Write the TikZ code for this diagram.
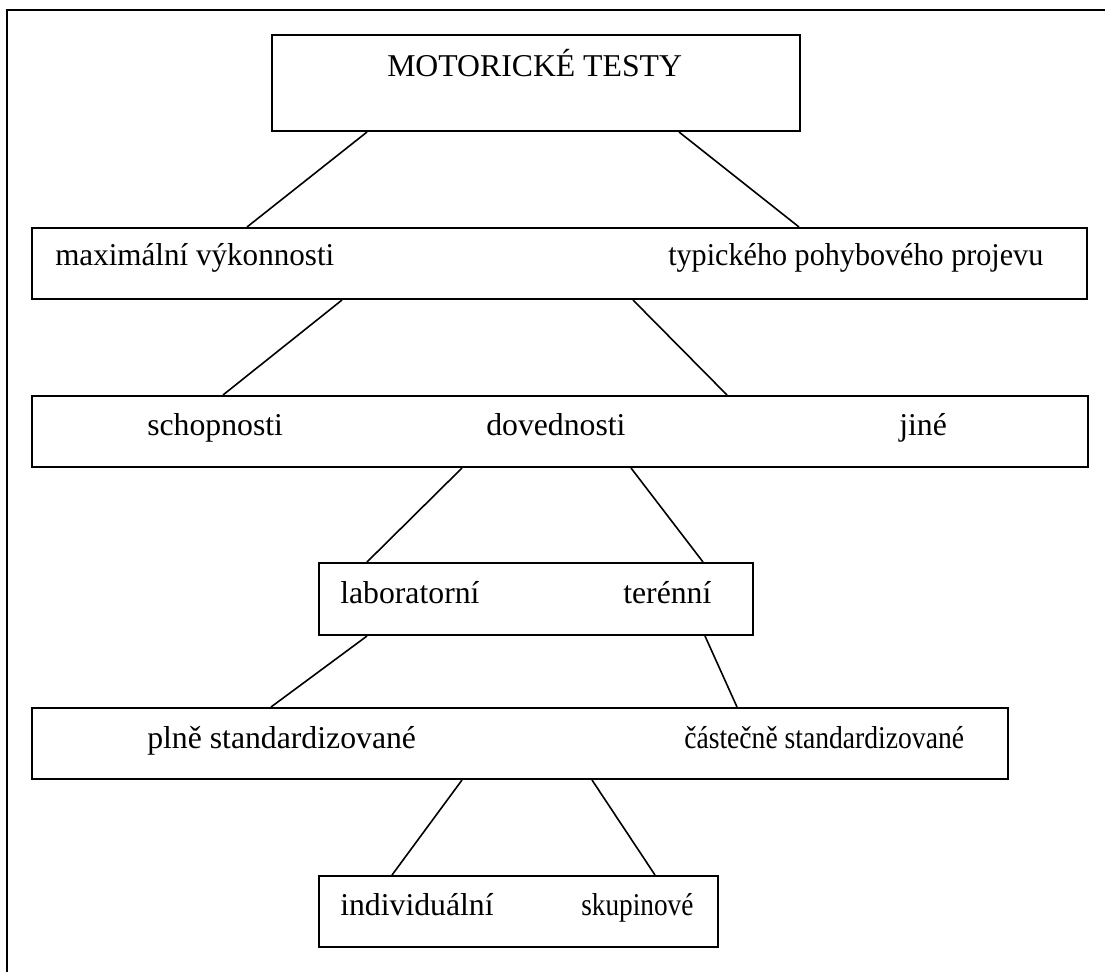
\documentclass[tikz,border=0pt]{standalone}
\usepackage{fontspec}
\setmainfont{Liberation Serif}
\begin{document}
\begin{tikzpicture}[x=0.75pt,y=-0.75pt,
  box/.style={draw,line width=1.5pt,rectangle,inner sep=0pt,anchor=center},
  lbl/.style={anchor=base west,inner sep=0pt,font=\fontsize{23.8}{28}\selectfont},
  conn/.style={line width=1.2pt}]
\useasboundingbox (0,0) rectangle (1105,972);
% outer frame (only top and left edges are visible)
\draw[line width=1.5pt] (1105,10) -- (7,10) -- (7,972);
% boxes
\node[box,minimum width=396pt,minimum height=72pt] (top) at (536,83) {};
\node[box,minimum width=791.25pt,minimum height=53.25pt] (l2) at (559.5,263.5) {};
\node[box,minimum width=792pt,minimum height=53.25pt] (l3) at (560,431.5) {};
\node[box,minimum width=325.5pt,minimum height=54pt] (l4) at (536,599) {};
\node[box,minimum width=732pt,minimum height=53.25pt] (l5) at (520,743.5) {};
\node[box,minimum width=299.25pt,minimum height=53.25pt] (l6) at (518.5,911.5) {};
% texts
\node[lbl] (t0) at (387,76) {MOTORICKÉ TESTY};
\node[lbl] (t2a) at (55,265) {\scalebox{0.98}[1]{maximální výkonnosti}};
\node[lbl] (t2b) at (668,265) {\scalebox{0.95}[1]{typického pohybového projevu}};
\node[lbl] (t3a) at (147,435) {schopnosti};
\node[lbl] (t3b) at (486,435) {dovednosti};
\node[lbl] (t3c) at (899,435) {jiné};
\node[lbl] (t4a) at (340,603) {laboratorní};
\node[lbl] (t4b) at (623,603) {terénní};
\node[lbl] (t5a) at (147,748) {plně standardizované};
\node[lbl] (t5b) at (684,748) {\scalebox{0.87}[1]{částečně standardizované}};
\node[lbl] (t6a) at (340,915) {individuální};
\node[lbl] (t6b) at (581,915) {\scalebox{0.86}[1]{skupinové}};
% connectors
\draw[conn] ([xshift=72pt]top.south west) -- ([xshift=162pt]l2.north west);
\draw[conn] ([xshift=306pt]top.south west) -- ([xshift=576pt]l2.north west);
\draw[conn] ([xshift=233.25pt]l2.south west) -- ([xshift=144pt]l3.north west);
\draw[conn] ([xshift=451.5pt]l2.south west) -- ([xshift=522pt]l3.north west);
\draw[conn] ([xshift=323.25pt]l3.south west) -- ([xshift=36.75pt]l4.north west);
\draw[conn] ([xshift=450pt]l3.south west) -- ([xshift=288.75pt]l4.north west);
\draw[conn] ([xshift=36.75pt]l4.south west) -- ([xshift=180pt]l5.north west);
\draw[conn] ([xshift=290.25pt]l4.south west) -- ([xshift=529.5pt]l5.north west);
\draw[conn] ([xshift=323.25pt]l5.south west) -- ([xshift=55.5pt]l6.north west);
\draw[conn] ([xshift=420.75pt]l5.south west) -- ([xshift=252.75pt]l6.north west);
\end{tikzpicture}
\end{document}
